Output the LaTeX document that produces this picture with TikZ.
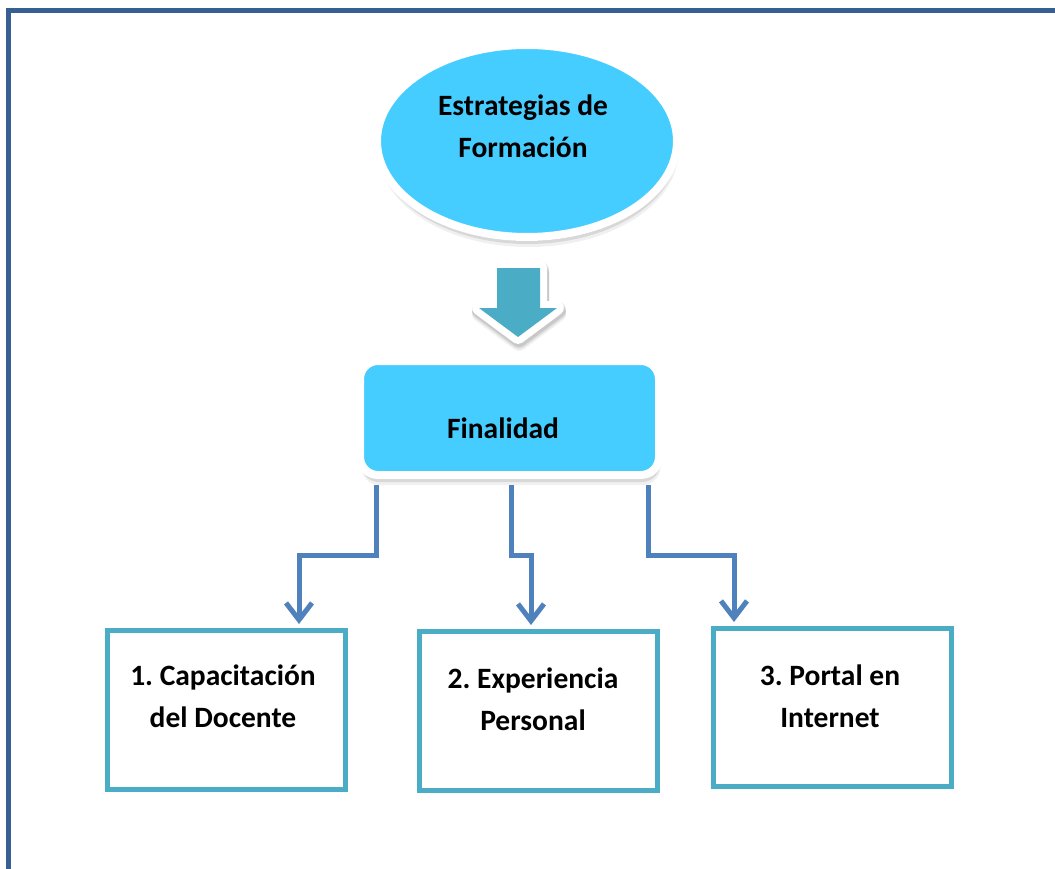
\documentclass[tikz,border=0pt]{standalone}
\usepackage{fontspec}
\setmainfont{Carlito}
\frenchspacing
\usetikzlibrary{shapes.geometric,arrows.meta,shadows,calc}
\definecolor{framec}{HTML}{376092}
\definecolor{skyfill}{HTML}{45CDFF}
\definecolor{tealc}{HTML}{4BACC6}
\definecolor{connc}{HTML}{4F81BD}
\begin{document}
\begin{tikzpicture}[x=1pt,y=-1pt,
  txt/.style={font=\fontsize{29.5}{42}\selectfont\bfseries,align=center,inner sep=0pt},
  soft/.style={
    drop shadow={shadow xshift=0.5pt,shadow yshift=-4pt,opacity=0.14,fill=black},
    drop shadow={shadow xshift=1pt,shadow yshift=-7pt,opacity=0.10,fill=black},
    drop shadow={shadow xshift=1.5pt,shadow yshift=-10pt,opacity=0.06,fill=black}},
  ellbox/.style={ellipse,fill=skyfill,draw=white,line width=8pt,minimum width=300pt,minimum height=192pt,inner sep=0pt,soft},
  finbox/.style={rectangle,rounded corners=18pt,fill=skyfill,draw=white,line width=8pt,minimum width=299pt,minimum height=114pt,inner sep=0pt,soft},
  itembox/.style={rectangle,draw=tealc,fill=white,line width=5pt,minimum width=238pt,minimum height=159pt,inner sep=0pt},
  connline/.style={draw=connc,line width=5pt,-{Straight Barb[length=17pt,width=26pt]}},
  blockarrow/.style={fill=tealc},
  arrowshadow/.style={draw=black,fill=black,line width=16pt,line join=round}
]
\useasboundingbox (0,0) rectangle (1055,869);
% frame
\draw[framec,line width=5pt] (8.5,869) -- (8.5,10.5) -- (1055,10.5);

% top ellipse
\node[ellbox] (est) at (527,141) {};
\node[txt] (esttxt) at (523,126) {Estrategias de\\Formación};

% block arrow
\foreach \dy/\op in {2/0.10,4/0.08,6/0.05}{
  \draw[arrowshadow,opacity=\op,shift={(1,\dy)}]
    (497,268) -- (540,268) -- (540,308) -- (557,308) -- (518,337) -- (479,308) -- (497,308) -- cycle;
}
\draw[white,line width=14pt,line join=round,fill=white]
  (497,268) -- (540,268) -- (540,308) -- (557,308) -- (518,337) -- (479,308) -- (497,308) -- cycle;
\fill[blockarrow]
  (497,268) -- (540,268) -- (540,308) -- (557,308) -- (518,337) -- (479,308) -- (497,308) -- cycle;

% Finalidad
\node[finbox] (fin) at (509.5,418) {};
\node[txt] (fintxt) at (503,428) {Finalidad};

% item boxes
\node[itembox] (b1) at (226.5,710) {};
\node[txt] (t1) at ($(b1.center)+(-3.5,-13.5)$) {1. Capacitación\\del Docente};
\node[itembox] (b2) at (538.5,711) {};
\node[txt] (t2) at ($(b2.center)+(-5.5,-12)$) {2. Experiencia\\Personal};
\node[itembox,minimum height=158pt] (b3) at (832.5,707.5) {};
\node[txt] (t3) at ($(b3.center)+(-2.5,-11.5)$) {3. Portal en\\Internet};

% connectors
\draw[connline] ([xshift=-133.5pt,yshift=-6pt]fin.south) -- ++(0,70) -| ([xshift=72.5pt,yshift=4pt]b1.north);
\draw[connline] ([xshift=1.5pt,yshift=-6pt]fin.south) -- ++(0,70) -| ([xshift=-7.5pt,yshift=4pt]b2.north);
\draw[connline] ([xshift=138.5pt,yshift=-6pt]fin.south) -- ++(0,70) -| ([xshift=-98.5pt,yshift=4pt]b3.north);
\end{tikzpicture}
\end{document}
